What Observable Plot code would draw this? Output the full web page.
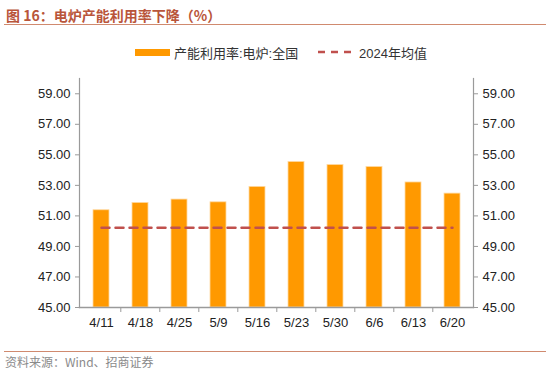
<!DOCTYPE html>
<html>
<head>
<meta charset="utf-8">
<script src="https://cdn.jsdelivr.net/npm/d3@7"></script>
<script src="https://cdn.jsdelivr.net/npm/@observablehq/plot@0.6"></script>
<style>
  html, body { margin: 0; padding: 0; background: #fff; }
  #wrap { position: relative; width: 550px; height: 375px; overflow: hidden; font-family: "Liberation Sans", Arial, "Noto Sans CJK SC", sans-serif; }
  #title { position: absolute; left: 6px; top: 5px; font-size: 14px; font-weight: bold; color: #B9553A; font-family: "Noto Sans CJK SC", sans-serif; white-space: nowrap; }
  #tline { position: absolute; left: 4px; right: 4px; top: 24px; height: 0; border-top: 1.5px solid #D08A6F; }
  .lg { position: absolute; white-space: nowrap; font-size: 13px; color: #333; font-family: "Liberation Sans", "Noto Sans CJK SC", sans-serif; }
  #sw { position: absolute; left: 135px; top: 49px; width: 35px; height: 7px; background: #FF9900; }
  #src { position: absolute; left: 5px; top: 353px; font-size: 12px; color: #8a8a8a; font-family: "Noto Sans CJK SC", sans-serif; white-space: nowrap; }
  #sline { position: absolute; left: 4px; right: 4px; top: 351px; height: 0; border-top: 1.5px solid #D08A6F; }
  #chart { position: absolute; left: 0; top: 62px; }
</style>
</head>
<body>
<div id="wrap">
  <div id="title">图 16：电炉产能利用率下降（%）</div>
  <div id="tline"></div>
  <div id="sw"></div>
  <div class="lg" style="left:174px; top:43px;">产能利用率:电炉:全国</div>
  <svg style="position:absolute; left:317px; top:47px;" width="40" height="10"><line x1="1" y1="5" x2="39" y2="5" stroke="#C0504D" stroke-width="2.5" stroke-dasharray="7,6"/></svg>
  <div class="lg" style="left:359px; top:43px;">2024年均值</div>
  <div id="chart"></div>
  <div id="sline"></div>
  <div id="src">资料来源：Wind、招商证券</div>
</div>
<script>
const categories = ["4/11", "4/18", "4/25", "5/9", "5/16", "5/23", "5/30", "6/6", "6/13", "6/20"];
const utilization = [51.37, 51.85, 52.07, 51.89, 52.90, 54.53, 54.33, 54.20, 53.19, 52.46];
const avg2024 = 50.23;
const yTicks = [45, 47, 49, 51, 53, 55, 57, 59];

const data = categories.map((c, i) => ({cat: c, value: utilization[i]}));
const avgData = categories.map(c => ({cat: c, value: avg2024}));

const W = 550, H = 280;
const mL = 79, mR = 77, mT = 16, mB = 35;
const bw = (W - mL - mR) / categories.length;
const fmt = d => d.toFixed(2);

const chart = Plot.plot({
  width: W, height: H,
  marginLeft: mL, marginRight: mR, marginTop: mT, marginBottom: mB,
  style: {fontFamily: "'Liberation Sans', Arial, sans-serif", fontSize: "13px", color: "#222", background: "transparent"},
  x: {type: "band", domain: categories, paddingInner: 0.59, paddingOuter: 0.295, align: 0.5, label: null},
  y: {domain: [45, 60], label: null},
  marks: [
    Plot.barY(data, {x: "cat", y1: 45, y2: "value", fill: "#FF9900", stroke: "#FFD9A0", strokeWidth: 0.8}),
    Plot.lineY(avgData, {x: "cat", y: "value", stroke: "#C0504D", strokeWidth: 2.5, strokeDasharray: "8,6"}),
    Plot.frame({anchor: "left", stroke: "#9a9a9a", strokeWidth: 1.2}),
    Plot.frame({anchor: "right", stroke: "#9a9a9a", strokeWidth: 1.2}),
    Plot.frame({anchor: "bottom", stroke: "#9a9a9a", strokeWidth: 1.5}),
    Plot.axisY(yTicks, {anchor: "left", tickFormat: fmt, tickSize: 4, tickPadding: 5, stroke: "#9a9a9a", color: "#222", label: null}),
    Plot.axisY(yTicks, {anchor: "right", tickFormat: fmt, tickSize: 4, tickPadding: 5, stroke: "#9a9a9a", label: null}),
    Plot.axisX(categories.slice(1), {anchor: "bottom", tickSize: 5, tickFormat: () => "", dx: -bw / 2, stroke: "#9a9a9a", label: null}),
    Plot.axisX({anchor: "bottom", tickSize: 0, tickPadding: 10, label: null})
  ]
});
document.getElementById("chart").appendChild(chart);
</script>
</body>
</html>
